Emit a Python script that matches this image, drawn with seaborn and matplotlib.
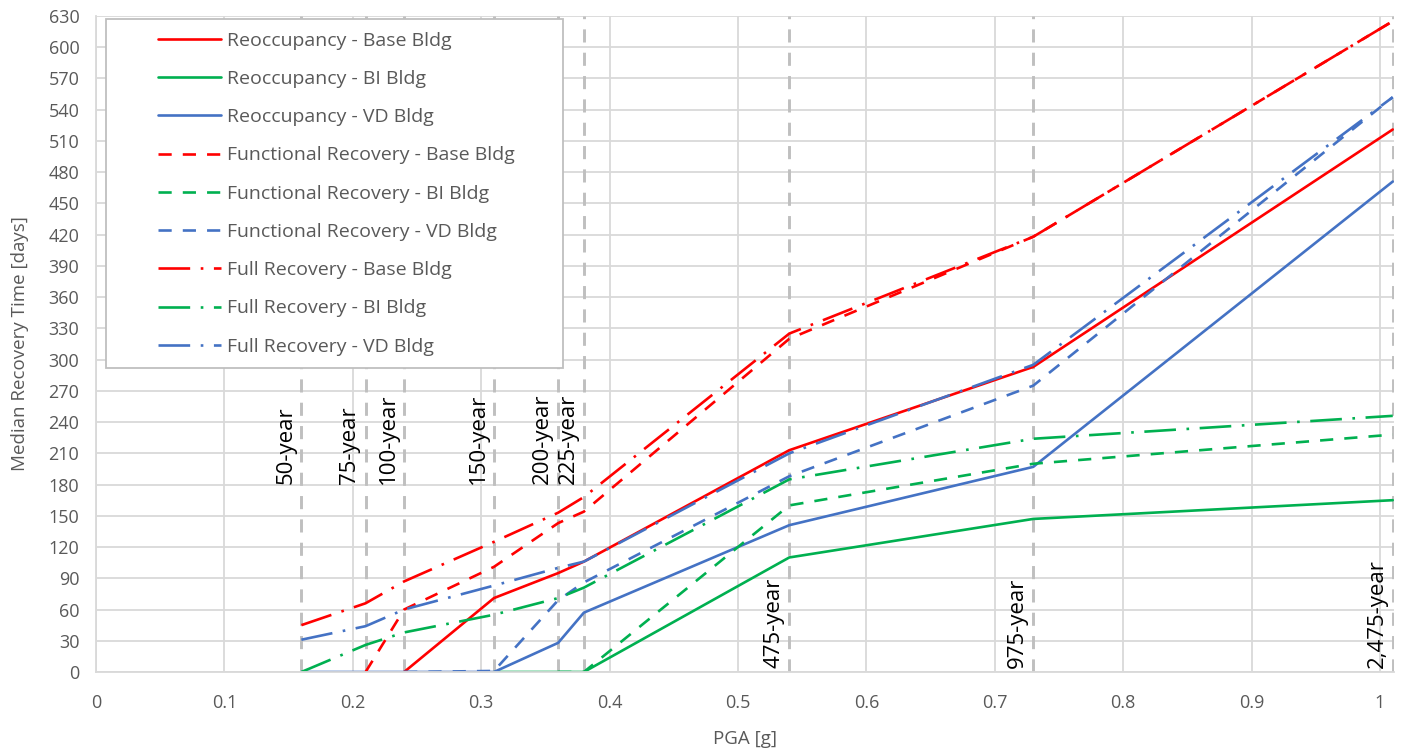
import numpy as np
import pandas as pd
import matplotlib
matplotlib.use("Agg")
import matplotlib.pyplot as plt
from matplotlib.patches import Rectangle
import seaborn as sns

# ---------------- data ----------------
pga = [0.16, 0.21, 0.24, 0.31, 0.36, 0.38, 0.54, 0.73, 1.01]
return_periods = ["50-year", "75-year", "100-year", "150-year", "200-year",
                  "225-year", "475-year", "975-year", "2,475-year"]

reocc_base = [np.nan, np.nan, 0, 71, 95, 106, 213, 293, 521]
reocc_bi = [np.nan, np.nan, np.nan, 0, 0, 0, 110, 147, 165]
reocc_vd = [0, 0, 0, 0, 28, 57, 141, 197, 471]
func_base = [np.nan, 0, 60, 101, 143, 154, 320, 418, 625]
func_bi = [np.nan, np.nan, np.nan, np.nan, 0, 0, 160, 200, 228]
func_vd = [np.nan, np.nan, 0, 1, 69, 86, 188, 275, 552]
full_base = [45, 66, 87, 125, 153, 168, 325, 418, 625]
full_bi = [0, 26, 38, 55, 71, 81, 185, 224, 246]
full_vd = [31, 44, 60, 83, 100, 106, 210, 295, 552]

series_names = ["Reoccupancy - Base Bldg", "Reoccupancy - BI Bldg", "Reoccupancy - VD Bldg",
                "Functional Recovery - Base Bldg", "Functional Recovery - BI Bldg",
                "Functional Recovery - VD Bldg", "Full Recovery - Base Bldg",
                "Full Recovery - BI Bldg", "Full Recovery - VD Bldg"]
series_values = [reocc_base, reocc_bi, reocc_vd, func_base, func_bi, func_vd,
                 full_base, full_bi, full_vd]

# ---------------- style ----------------
sns.set_theme(style="white")
plt.rcParams["font.family"] = ["Open Sans", "DejaVu Sans"]

RED, GREEN, BLUE = "#FF0000", "#00B050", "#4472C4"
colors = [RED, GREEN, BLUE] * 3
styles = ["-"] * 3 + [(0, (5, 4.2))] * 3 + [(0, (12, 4, 1, 4))] * 3
GRID = "#D9D9D9"
TXT = "#595959"

fig = plt.figure(figsize=(14.03, 7.51), dpi=100)
ax = fig.add_axes([0.0684, 0.1052, 0.9252, 0.8735])

# vertical return-period lines
for xv in pga:
    ax.axvline(xv, color="#BFBFBF", lw=2.1, linestyle=(0, (4.5, 3.5)), zorder=1.5)

for name, vals, c, ls in zip(series_names, series_values, colors, styles):
    df = pd.DataFrame({"PGA": pga, "T": vals}).dropna()
    sns.lineplot(data=df, x="PGA", y="T", color=c, linestyle=ls, linewidth=1.9,
                 ax=ax, label=name, legend=False, zorder=2)

# axes
ax.set_xlim(0, 1.011)
ax.set_ylim(0, 630)
ax.set_xticks(np.arange(0, 1.01, 0.1))
ax.set_xticklabels(["0", "0.1", "0.2", "0.3", "0.4", "0.5", "0.6", "0.7", "0.8", "0.9", "1"])
ax.set_yticks(np.arange(0, 631, 30))
ax.grid(True, color=GRID, lw=1.3, zorder=0)
ax.set_axisbelow(True)
for s in ["top", "right"]:
    ax.spines[s].set_visible(False)
for s in ["left", "bottom"]:
    ax.spines[s].set_color(GRID)
    ax.spines[s].set_linewidth(1.3)
ax.tick_params(axis="both", colors=TXT, labelsize=13, length=0)
ax.tick_params(axis="y", pad=12)
ax.tick_params(axis="x", pad=16)
ax.set_xlabel("PGA [g]", color=TXT, fontsize=13.5, labelpad=13)
ax.set_ylabel("Median Recovery Time [days]", color=TXT, fontsize=13.5, labelpad=14)

# return period annotations
for xv, lab in zip(pga[:6], return_periods[:6]):
    ax.text(xv - 0.004, 181, lab, rotation=90, ha="right", va="bottom",
            fontsize=16, color="black", zorder=3)
for xv, lab in zip(pga[6:], return_periods[6:]):
    ax.text(xv - 0.004, 4, lab, rotation=90, ha="right", va="bottom",
            fontsize=16, color="black", zorder=3)

# legend box (Excel-like)
trans = ax.transAxes
x0 = (106 - 96) / 1298
x1 = (563 - 96) / 1298
y1 = (672 - 19) / 656
y0 = (672 - 368) / 656
ax.add_patch(Rectangle((x0, y0), x1 - x0, y1 - y0, transform=trans,
                       facecolor="white", edgecolor="#BFBFBF", lw=1.3, zorder=4))
handles, labels = ax.get_legend_handles_labels()
leg = ax.legend(handles, labels, loc="upper left",
                bbox_to_anchor=((152 - 96) / 1298, (672 - 26) / 656),
                frameon=False, fontsize=14, handlelength=3.25, handletextpad=0.3,
                labelspacing=1.04, borderpad=0.3, borderaxespad=0)
leg.set_zorder(5)
for t in leg.get_texts():
    t.set_color(TXT)

fig.savefig("out.png", dpi=100)
